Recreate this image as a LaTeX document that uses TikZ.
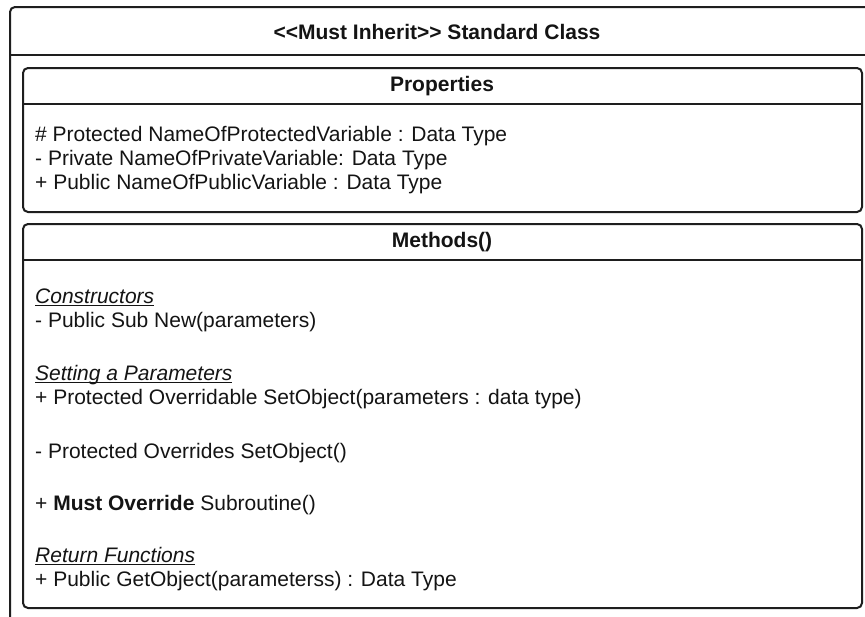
\documentclass[tikz,border=0pt]{standalone}
\usepackage{fontspec}
\setmainfont{Liberation Sans}
\definecolor{linec}{HTML}{1E1E1E}
\definecolor{textc}{HTML}{141414}
% italic group heading with a thin rule just under the baseline
\newcommand\grouphead[1]{\setbox0\hbox{\itshape #1}\rlap{\usebox0}\rule[-3pt]{\wd0}{1.1pt}}
\begin{document}
\begin{tikzpicture}[x=1pt,y=-1pt,
  frame/.style={draw=linec, line width=2pt, rounded corners=5pt},
  sep/.style={draw=linec, line width=2pt},
  title/.style={font=\fontsize{21}{24}\selectfont\bfseries, text=textc, anchor=center, inner sep=0pt},
  item/.style={font=\fontsize{21}{24}\selectfont, text=textc, anchor=base west, inner sep=0pt}]
\useasboundingbox (0,0) rectangle (865,616);
\fill[white] (0,0) rectangle (865,616);
\clip (0,0) rectangle (865,616);

% outer class frame (runs past the page edge on the right and bottom)
\draw[frame] (10,7) rectangle (872,630);
\draw[sep] (10,55) -- (872,55);
\node[title] (cls) at (437,32) {{<}{<}Must Inherit{>}{>} Standard Class};

% properties compartment
\draw[frame] (23,68) rectangle (862,212);
\draw[sep] (23,104) -- (862,104);
\node[title] (props) at (442,86) {Properties};
\node[item] (p1) at (35,141) {\# Protected NameOfProtectedVariable : Data Type};
\node[item] (p2) at (35,165) {- Private NameOfPrivateVariable: Data Type};
\node[item] (p3) at (35,189) {+ Public NameOfPublicVariable : Data Type};

% methods compartment
\draw[frame] (23,224) rectangle (862,608);
\draw[sep] (23,260) -- (862,260);
\node[title] (meth) at (442,242) {Methods()};
\node[item] (m1) at (35,303) {\grouphead{Constructors}};
\node[item] (m2) at (35,327) {- Public Sub New(parameters)};
\node[item] (m3) at (35,380) {\grouphead{Setting a Parameters}};
\node[item] (m4) at (35,404) {+ Protected Overridable SetObject(parameters : data type)};
\node[item] (m5) at (35,458) {- Protected Overrides SetObject()};
\node[item] (m6) at (35,510) {+ \textbf{Must Override} Subroutine()};
\node[item] (m7) at (35,562) {\grouphead{Return Functions}};
\node[item] (m8) at (35,586) {+ Public GetObject(parameterss) : Data Type};
\end{tikzpicture}
\end{document}
